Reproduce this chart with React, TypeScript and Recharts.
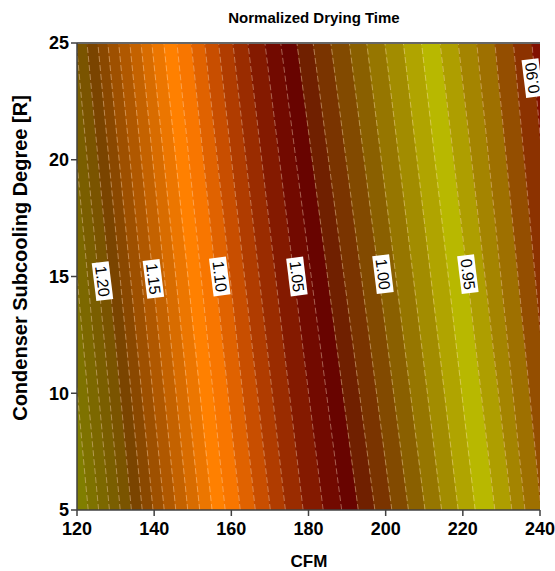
import { Area, ComposedChart, Line, ReferenceDot, ReferenceLine, XAxis, YAxis } from "recharts"

// contour levels, read left to right; one dashed line per level
const LEVELS = [
  1.24, 1.23, 1.22, 1.21, 1.2, 1.19, 1.18, 1.17, 1.16, 1.15, 1.14, 1.13, 1.12, 1.11, 1.1, 1.09, 1.08, 1.07,
  1.06, 1.05, 1.04, 1.03, 1.02, 1.01, 1.0, 0.99, 0.98, 0.97, 0.96, 0.95, 0.94, 0.93, 0.92, 0.91, 0.9, 0.89,
]
// where each level line crosses the top edge (R = 25)
const TOP_CFM = [
  108.9, 111.7, 114.4, 117.1, 119.8, 122.6, 125.4, 128.0, 130.8, 133.7, 136.6, 139.4, 142.5, 145.9, 149.6,
  153.1, 156.7, 160.4, 164.3, 168.7, 172.8, 177.0, 181.2, 185.8, 190.6, 195.1, 199.8, 204.6, 209.3, 214.1,
  218.8, 223.6, 228.3, 233.1, 237.9, 242.6,
]
// ... and the bottom edge (R = 5)
const BOTTOM_CFM = [
  119.9, 122.9, 125.6, 128.4, 131.2, 134.1, 136.9, 139.7, 142.6, 145.6, 148.7, 151.8, 155.0, 158.4, 162.3,
  166.2, 170.1, 174.0, 178.6, 183.8, 188.6, 192.9, 197.2, 201.6, 205.9, 210.2, 214.5, 218.8, 223.2, 228.3,
  232.7, 236.1, 240.3, 244.4, 248.6, 252.7,
]
// fill of the band between LEVELS[i] and LEVELS[i + 1]
const BAND_COLORS = [
  "#807e00", "#7e7200", "#7c6800", "#7a5e00", "#7a5400", "#7a4400", "#8a4800", "#9e5000", "#b05800",
  "#c46200", "#d86c00", "#ec7600", "#ff8000", "#f87600", "#e06200", "#c84e00", "#b03c00", "#9a2c00",
  "#841a00", "#720a00", "#680400", "#702000", "#7a3400", "#824a00", "#8a6000", "#967600", "#a28c00",
  "#b0a400", "#b8b800", "#ae9e00", "#a48400", "#9e7000", "#944e00", "#8c3200", "#821000",
]

const X_TICKS = [120, 140, 160, 180, 200, 220, 240]
const Y_TICKS = [5, 10, 15, 20, 25]

const LABEL_TEXT = ["1.20", "1.15", "1.10", "1.05", "1.00", "0.95", "0.90"]
const LABEL_CFM = [126.6, 139.8, 157.0, 177.0, 199.3, 221.3, 238.0]
const LABEL_R = [14.8, 14.9, 15.0, 15.0, 15.1, 15.1, 23.5]

const FONT = "'Liberation Sans', Arial, Helvetica, sans-serif"

const rows = [
  { r: 5, xs: BOTTOM_CFM },
  { r: 25, xs: TOP_CFM },
].map(({ r, xs }) => {
  const row: Record<string, any> = { r }
  xs.forEach((x, i) => {
    row[`c${i}`] = x
  })
  BAND_COLORS.forEach((_, i) => {
    row[`b${i}`] = [xs[i], xs[i + 1]]
  })
  return row
})

function ContourLabel({ cx, cy, text, up }: any) {
  if (cx == null || cy == null) return <g />
  return (
    <g transform={`translate(${cx},${cy}) rotate(${up ? -97 : 83})`}>
      <rect x={-19} y={-8.5} width={38} height={17} fill="#fff" />
      <text
        x={0}
        y={0}
        textAnchor="middle"
        dominantBaseline="central"
        fontSize={16}
        fontFamily={FONT}
        fill="#000"
      >
        {text}
      </text>
    </g>
  )
}

const tickStyle = { fontSize: 18, fontWeight: 700, fill: "#000", fontFamily: FONT }

export default function App() {
  return (
    <div
      style={{
        position: "absolute",
        left: 0,
        top: 0,
        width: 555,
        height: 571,
        background: "#fff",
        fontFamily: FONT,
      }}
    >
      <ComposedChart
        width={555}
        height={571}
        layout="vertical"
        data={rows}
        margin={{ top: 43, right: 15, bottom: 0, left: 0 }}
      >
        <XAxis
          type="number"
          domain={[120, 240]}
          ticks={X_TICKS}
          allowDataOverflow
          height={61}
          tick={tickStyle}
          tickMargin={6}
          stroke="#404040"
          strokeWidth={1.5}
        />
        <YAxis
          type="number"
          dataKey="r"
          domain={[5, 25]}
          ticks={Y_TICKS}
          reversed
          allowDataOverflow
          width={77}
          tick={tickStyle}
          stroke="#404040"
          strokeWidth={1.5}
        />
        {BAND_COLORS.map((c, i) => (
          <Area
            key={`b${i}`}
            dataKey={`b${i}`}
            type="linear"
            fill={c}
            fillOpacity={1}
            stroke={c}
            strokeWidth={1}
            dot={false}
            activeDot={false}
            isAnimationActive={false}
          />
        ))}
        {LEVELS.map((lv, i) => (
          <Line
            key={`c${i}`}
            name={String(lv)}
            dataKey={`c${i}`}
            type="linear"
            stroke="rgba(255,225,190,0.42)"
            strokeWidth={1}
            strokeDasharray="6 3"
            dot={false}
            activeDot={false}
            isAnimationActive={false}
          />
        ))}
        <ReferenceLine y={25} stroke="#666" strokeWidth={2} />
        {LABEL_TEXT.map((t, i) => (
          <ReferenceDot
            key={t}
            x={LABEL_CFM[i]}
            y={LABEL_R[i]}
            r={0}
            shape={(p: any) => <ContourLabel cx={p.cx} cy={p.cy} text={t} up={t === "0.90"} />}
          />
        ))}
      </ComposedChart>
      <div
        style={{
          position: "absolute",
          left: 314,
          top: 9,
          transform: "translateX(-50%)",
          whiteSpace: "nowrap",
          fontSize: 15,
          fontWeight: 700,
        }}
      >
        Normalized Drying Time
      </div>
      <div
        style={{
          position: "absolute",
          left: 309,
          top: 552,
          transform: "translateX(-50%)",
          fontSize: 17,
          fontWeight: 700,
        }}
      >
        CFM
      </div>
      <div
        style={{
          position: "absolute",
          left: 20,
          top: 258,
          transform: "translate(-50%, -50%) rotate(-90deg)",
          whiteSpace: "nowrap",
          fontSize: 20,
          fontWeight: 700,
        }}
      >
        Condenser Subcooling Degree [R]
      </div>
    </div>
  )
}
